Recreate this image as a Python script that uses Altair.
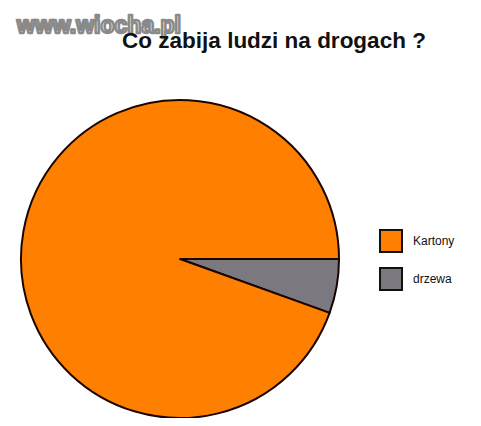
import altair as alt
import pandas as pd

# data
categories = ["drzewa", "Kartony"]
shares = [5.5, 94.5]
order = [0, 1]
legend_order = ["Kartony", "drzewa"]
colors = ["#FF8000", "#7C787F"]
title_text = "Co zabija ludzi na drogach ?"
watermark = "www.wiocha.pl"

pie_df = pd.DataFrame({"kategoria": categories, "udzial": shares, "ord": order})

pie = alt.Chart(pie_df).mark_arc(
    outerRadius=159, stroke="#1a0500", strokeWidth=2, strokeJoin="round"
).encode(
    theta=alt.Theta("udzial:Q", stack=True,
                    scale=alt.Scale(range=[1.5707963, 1.5707963 + 6.2831853])),
    order=alt.Order("ord:Q"),
    color=alt.Color(
        "kategoria:N",
        scale=alt.Scale(domain=legend_order, range=colors),
        legend=alt.Legend(
            title=None, orient="none", legendX=371, legendY=221,
            symbolType="square", symbolSize=484, symbolStrokeColor="#111111",
            symbolStrokeWidth=2, rowPadding=8, labelOffset=10,
            labelFont="Liberation Sans", labelFontSize=12, labelColor="#111111",
            padding=0,
        ),
    ),
    x=alt.value(172),
    y=alt.value(251),
)

title = alt.Chart(pd.DataFrame({"t": [title_text]})).mark_text(
    font="Liberation Sans", fontWeight="bold", fontSize=22.5,
    color="#111111", align="center", baseline="alphabetic",
).encode(text="t:N", x=alt.value(266), y=alt.value(40))

wm = alt.Chart(pd.DataFrame({"t": [watermark]})).mark_text(
    font="Liberation Sans", fontWeight="bold", fontSize=23,
    color="#ffffff", stroke="#8a8a8a", strokeWidth=2.5, strokeJoin="round",
    align="left", baseline="alphabetic",
).encode(text="t:N", x=alt.value(9), y=alt.value(25))

chart = alt.layer(pie, wm, title).properties(
    width=465, height=410, autosize=alt.AutoSizeParams(type="none"), padding=0,
).configure_view(stroke=None)

chart.save("out.html", embed_options={"renderer": "svg", "actions": False})
